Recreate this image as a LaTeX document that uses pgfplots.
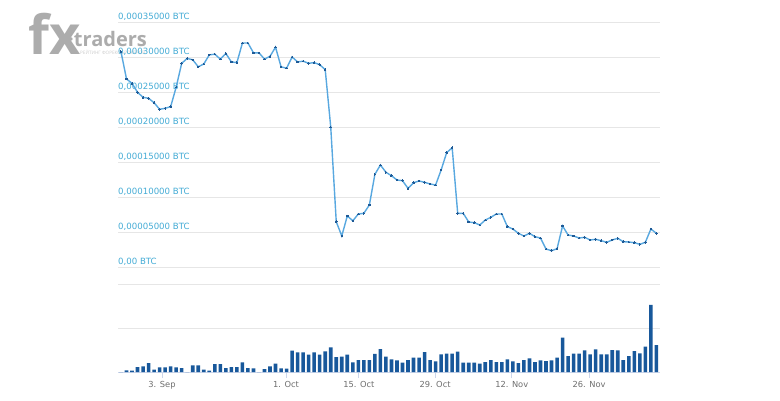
\documentclass[border=0pt]{standalone}
\usepackage{fontspec}
\setmainfont{DejaVu Sans}
\newfontfamily\logofont{Open Sans}
\usepackage{pgfplots}
\usepackage{pgfplotstable}
\pgfplotsset{compat=1.18}
\definecolor{gridc}{RGB}{230,230,230}
\definecolor{axisc}{RGB}{204,214,235}
\definecolor{labblue}{RGB}{68,172,214}
\definecolor{labgrey}{RGB}{110,110,110}
\definecolor{lineblue}{RGB}{88,168,224}
\definecolor{markblue}{RGB}{30,90,150}
\definecolor{barblue}{RGB}{24,88,155}
\definecolor{logogrey}{RGB}{172,172,172}

\pgfplotstableread{
i v
0 30.76
1 26.86
2 26.24
3 24.96
4 24.24
5 24.10
6 23.47
7 22.53
8 22.67
9 22.90
10 25.70
11 29.10
12 29.80
13 29.60
14 28.60
15 29.00
16 30.30
17 30.40
18 29.70
19 30.50
20 29.30
21 29.20
22 32.00
23 32.00
24 30.60
25 30.60
26 29.70
27 30.10
28 31.40
29 28.60
30 28.40
31 30.00
32 29.30
33 29.40
34 29.10
35 29.20
36 28.90
37 28.20
38 20.00
39 6.47
40 4.43
41 7.29
42 6.60
43 7.57
44 7.67
45 8.86
46 13.24
47 14.57
48 13.53
49 13.04
50 12.43
51 12.33
52 11.24
53 12.04
54 12.29
55 12.10
56 11.86
57 11.71
58 13.86
59 16.33
60 17.04
61 7.67
62 7.67
63 6.43
64 6.33
65 6.00
66 6.71
67 7.10
68 7.57
69 7.57
70 5.76
71 5.43
72 4.81
73 4.43
74 4.81
75 4.33
76 4.14
77 2.57
78 2.33
79 2.61
80 5.86
81 4.57
82 4.43
83 4.14
84 4.24
85 3.86
86 3.96
87 3.76
88 3.53
89 3.86
90 4.10
91 3.61
92 3.57
93 3.47
94 3.24
95 3.53
96 5.43
97 4.81
}\price

\pgfplotstableread{
i vol
0 0
1 1.7
2 1.5
3 5
4 5.7
5 9
6 2.3
7 4.7
8 4.7
9 5.7
10 4.7
11 4
12 0
13 6.7
14 6.7
15 2.3
16 1.3
17 8
18 8
19 4
20 5
21 5
22 9.7
23 4
24 3.7
25 0
26 3
27 5.7
28 8.3
29 3.7
30 3.3
31 21.3
32 19.7
33 19.7
34 17.3
35 19.7
36 17.3
37 20.7
38 24.7
39 15
40 15.5
41 17.3
42 9.7
43 12
44 12
45 12
46 18.2
47 23
48 15.3
49 12.7
50 11.7
51 9.3
52 12
53 14.3
54 14.3
55 20
56 12
57 10.7
58 17.7
59 18.3
60 18.3
61 20.3
62 9.3
63 9.3
64 9.3
65 8.3
66 10
67 12
68 10
69 10
70 12.7
71 10.7
72 9
73 12
74 13.7
75 10
76 11.7
77 11
78 11.7
79 14.3
80 34.3
81 16
82 18.3
83 18.3
84 21.7
85 17.7
86 22.7
87 17.7
88 17.7
89 22
90 21.7
91 12
92 16
93 21
94 18.7
95 25.3
96 67
97 27
}\volume

\begin{document}
\begin{tikzpicture}[x=1pt,y=1pt]
\path[use as bounding box, fill=white] (0,0) rectangle (780,400);
% logo watermark
\node[anchor=base west, inner sep=0, text=logogrey] at (28,345)
  {\logofont\bfseries\fontsize{54}{54}\selectfont fx};
\node[anchor=base west, inner sep=0, text=logogrey] at (68,353)
  {\logofont\bfseries\fontsize{20}{20}\selectfont \textperiodcentered traders};
\node[anchor=base west, inner sep=0, text=logogrey!60] at (80,345)
  {\logofont\fontsize{4.6}{5}\selectfont РЕЙТИНГ ФОРЕКС БРОКЕРОВ};

% price panel
\begin{axis}[
  at={(118pt,133pt)}, anchor=south west, scale only axis,
  width=542pt, height=245pt,
  xmin=-0.54, xmax=97.65, ymin=0, ymax=35,
  axis line style={draw=none},
  xtick=\empty,
  ytick={0,5,...,35},
  yticklabels={{0,00 BTC},{0,00005000 BTC},{0,00010000 BTC},{0,00015000 BTC},{0,00020000 BTC},{0,00025000 BTC},{0,00030000 BTC},{0,00035000 BTC}},
  ymajorgrids, grid style={gridc, line width=0.8pt},
  ytick style={draw=none},
  yticklabel style={anchor=base west, inner sep=0pt, yshift=2.2pt, text=labblue, font=\fontsize{8.6}{10}\selectfont},
  clip=false,
]
\addplot[color=lineblue, line width=1.4pt, mark=*, mark size=0.75pt,
  mark options={fill=markblue, draw=markblue, line width=0pt}] table[x=i, y=v] {\price};
\end{axis}

% volume panel
\begin{axis}[
  at={(118pt,28pt)}, anchor=south west, scale only axis,
  width=542pt, height=88pt,
  xmin=-0.54, xmax=97.65, ymin=0, ymax=88,
  axis line style={draw=none},
  ytick={44,88}, yticklabels={},
  ymajorgrids, grid style={gridc, line width=0.8pt},
  ytick style={draw=none},
  extra y ticks={0}, extra y tick labels={},
  extra y tick style={grid style={axisc, line width=0.8pt}},
  xtick={7.43,29.9,43.1,56.9,70.8,84.8},
  xticklabels={3. Sep,1. Oct,15. Oct,29. Oct,12. Nov,26. Nov},
  xtick pos=bottom, tick align=outside, major tick length=6pt,
  xtick style={axisc, line width=0.8pt},
  xticklabel style={text=labgrey, font=\fontsize{8.3}{10}\selectfont},
  ybar, bar width=3.6pt,
]
\addplot[fill=barblue, draw=none] table[x=i, y=vol] {\volume};
\end{axis}
\end{tikzpicture}
\end{document}
